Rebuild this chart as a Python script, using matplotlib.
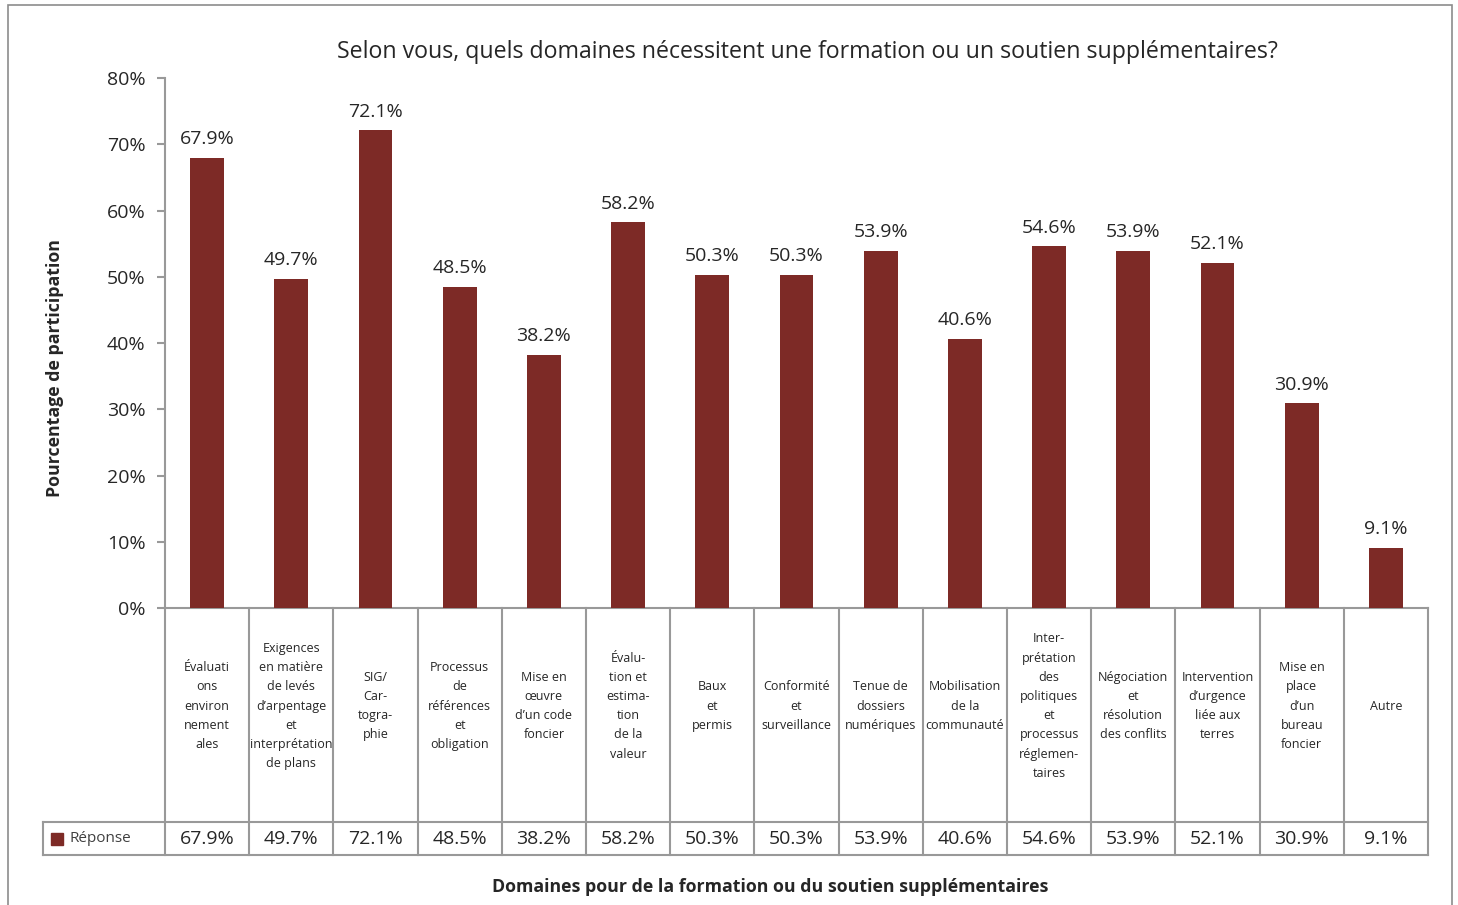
import matplotlib.pyplot as plt
import matplotlib.patches as patches
import numpy as np

# data
categories = [
    "Évaluati\nons\nenviron\nnement\nales",
    "Exigences\nen matière\nde levés\nd’arpentage\net\ninterprétation\nde plans",
    "SIG/\nCar-\ntogra-\nphie",
    "Processus\nde\nréférences\net\nobligation",
    "Mise en\nœuvre\nd’un code\nfoncier",
    "Évalu-\ntion et\nestima-\ntion\nde la\nvaleur",
    "Baux\net\npermis",
    "Conformité\net\nsurveillance",
    "Tenue de\ndossiers\nnumériques",
    "Mobilisation\nde la\ncommunauté",
    "Inter-\nprétation\ndes\npolitiques\net\nprocessus\nréglemen-\ntaires",
    "Négociation\net\nrésolution\ndes conflits",
    "Intervention\nd’urgence\nliée aux\nterres",
    "Mise en\nplace\nd’un\nbureau\nfoncier",
    "Autre",
]
values = [67.9, 49.7, 72.1, 48.5, 38.2, 58.2, 50.3, 50.3, 53.9, 40.6, 54.6, 53.9, 52.1, 30.9, 9.1]
series_name = "Réponse"

title = "Selon vous, quels domaines nécessitent une formation ou un soutien supplémentaires?"
ylab = "Pourcentage de participation"
xlab = "Domaines pour de la formation ou du soutien supplémentaires"

# style
bar_col = "#7D2A26"
grid_col = "#999999"
txt_col = "#262626"
plt.rcParams['font.family'] = ['Open Sans', 'DejaVu Sans']

fig = plt.figure(figsize=(14.58, 9.05), dpi=100)
ax = fig.add_axes([165/1458, (905-608)/905, (1428-165)/1458, 530/905])

x = np.arange(len(values))
ax.bar(x, values, width=0.4, color=bar_col, zorder=3)
for xi, v in zip(x, values):
    ax.annotate(f"{v:.1f}%", (xi, v), xytext=(0, 7), textcoords='offset points',
                ha='center', va='bottom', fontsize=14, color=txt_col)

ax.set_xlim(-0.5, len(values) - 0.5)
ax.set_ylim(0, 80)
ax.set_yticks(np.arange(0, 81, 10))
ax.set_yticklabels([f"{t}%" for t in range(0, 81, 10)], fontsize=14, color=txt_col)
ax.set_xticks([])
ax.tick_params(axis='y', length=6, width=1.5, color=grid_col, pad=8)
for s in ['top', 'right']:
    ax.spines[s].set_visible(False)
ax.spines['left'].set_color(grid_col)
ax.spines['left'].set_linewidth(1.5)
ax.spines['bottom'].set_color(grid_col)
ax.spines['bottom'].set_linewidth(1.5)

# data table below the axis
row_top = -32.3
row_bot = -37.3
leg_left = -1.95
lw = 1.5
for b in np.arange(-0.5, len(values), 1.0):
    ax.plot([b, b], [0, row_bot], color=grid_col, lw=lw, clip_on=False)
ax.plot([leg_left, len(values) - 0.5], [row_top, row_top], color=grid_col, lw=lw, clip_on=False)
ax.plot([leg_left, len(values) - 0.5], [row_bot, row_bot], color=grid_col, lw=lw, clip_on=False)
ax.plot([leg_left, leg_left], [row_top, row_bot], color=grid_col, lw=lw, clip_on=False)

for xi, lab, v in zip(x, categories, values):
    ax.text(xi, -14.8, lab, ha='center', va='center', fontsize=9,
            color=txt_col, linespacing=1.62, clip_on=False)
    ax.text(xi, (row_top + row_bot) / 2, f"{v:.1f}%", ha='center', va='center',
            fontsize=14, color=txt_col, clip_on=False)

ax.plot([-1.78], [(row_top + row_bot) / 2], marker='s', markersize=8, color=bar_col, clip_on=False)
ax.text(-1.63, (row_top + row_bot) / 2, series_name, ha='left', va='center',
        fontsize=11, color='#404040', clip_on=False)

fig.text(807/1458, 1 - 52/905, title, ha='center', va='center', fontsize=16.7, color=txt_col)
fig.text(55/1458, 1 - 368/905, ylab, ha='center', va='center', rotation=90,
         fontsize=12.8, fontweight='bold', color=txt_col)
fig.text(770/1458, 1 - 887/905, xlab, ha='center', va='center',
         fontsize=12.8, fontweight='bold', color=txt_col)

# outer frame
fig.patches.append(patches.Rectangle((8/1458, -0.02), 1444/1458, 1.02 - 5/905,
                                     transform=fig.transFigure, fill=False,
                                     edgecolor='#8c8c8c', lw=1.2))

fig.savefig("out.png", dpi=100)
